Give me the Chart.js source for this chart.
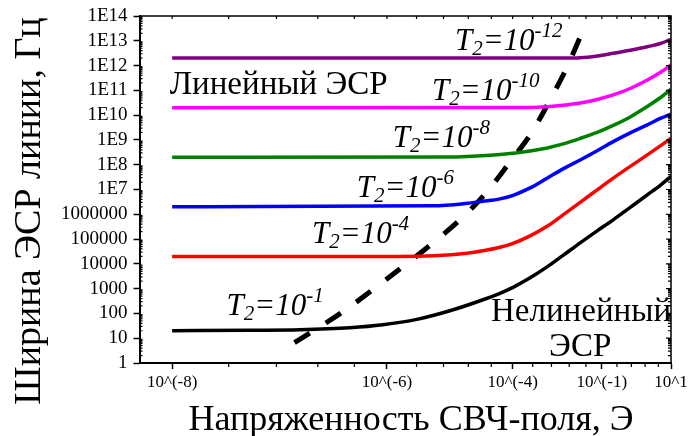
<!DOCTYPE html>
<html>
<head>
<meta charset="utf-8">
<script src="https://cdn.jsdelivr.net/npm/chart.js@4/dist/chart.umd.min.js"></script>
<style>
  @font-face { font-family: 'LocSerif'; font-style: normal; src: local('Liberation Serif'), local('LiberationSerif'), local('Liberation Serif Regular'); }
  @font-face { font-family: 'LocSerif'; font-style: italic; src: local('Liberation Serif Italic'), local('LiberationSerif-Italic'); }
  html, body { margin: 0; padding: 0; background: #fff; }
  #wrap { position: relative; width: 688px; height: 436px; }
  canvas { display: block; }
  #txt { position: absolute; left: 0; top: 0; pointer-events: none; }
</style>
</head>
<body>
<div id="wrap">
  <canvas id="c" width="688" height="436"></canvas>
  <canvas id="txt" width="688" height="436"></canvas>
</div>
<script>
// Field axis: positions on a log-spaced ruler (5..25) carrying the field labels
const fieldTicks = [5, 10, 15, 20, 25];
const fieldTickLabels = ['10^(-8)', '10^(-6)', '10^(-4)', '10^(-1)', '10^1'];
const fieldMinor = [6, 7, 8, 9, 11, 12, 13, 14, 16, 17, 18, 19, 21, 22, 23, 24];

// Linewidth axis decades (10^0 .. 10^14)
const widthDecades = [0, 1, 2, 3, 4, 5, 6, 7, 8, 9, 10, 11, 12, 13, 14];

// Linewidth vs field for each relaxation time T2
const xT2e1  = [5, 6.42, 7.54, 8.87, 9.87, 11.01, 12.25, 13.63, 14.40, 15.02, 15.87, 16.76, 17.65, 18.65, 19.70, 20.75, 21.92, 23.16, 24.15, 25];
const yT2e1  = [20, 21, 22, 26.5, 35, 57.7, 128, 356, 651, 1125, 2720, 7540, 2.21e4, 7.06e4, 2.15e5, 5.97e5, 1.9e6, 6.08e6, 1.47e7, 3.38e7];

const xT2e4  = [5, 10.42, 11.60, 12.94, 13.63, 14.40, 15.02, 15.87, 16.76, 17.65, 18.65, 19.70, 20.75, 21.92, 23.16, 24.15, 25];
const yT2e4  = [2e4, 2e4, 2.11e4, 2.67e4, 3.36e4, 4.65e4, 6.74e4, 1.35e5, 3.27e5, 9.49e5, 3.03e6, 9.66e6, 2.86e7, 8.56e7, 2.49e8, 5.74e8, 1.17e9];

const xT2e6  = [5, 11.60, 12.94, 13.63, 14.40, 15.02, 15.87, 16.76, 17.65, 18.65, 19.70, 20.75, 21.92, 23.16, 24.15, 25];
const yT2e6  = [2e6, 2.19e6, 2.76e6, 3.33e6, 4.19e6, 5.8e6, 1.16e7, 2.86e7, 6.78e7, 1.56e8, 3.67e8, 8.55e8, 1.92e9, 4.03e9, 7.36e9, 1.09e10];

const xT2e8  = [5, 12.25, 12.94, 14.40, 15.87, 16.76, 17.65, 18.65, 19.70, 20.75, 21.92, 23.16, 24.15, 25];
const yT2e8  = [2e8, 2.05e8, 2.16e8, 2.61e8, 3.61e8, 4.76e8, 6.9e8, 1.15e9, 2.01e9, 3.85e9, 8.45e9, 2.24e10, 5.03e10, 1.11e11];

const xT2e10 = [5, 15.87, 16.76, 17.65, 18.65, 19.70, 20.75, 21.92, 23.16, 24.15, 25];
const yT2e10 = [2e10, 2.04e10, 2.2e10, 2.51e10, 3.1e10, 4.3e10, 6.52e10, 1.19e11, 2.62e11, 5.26e11, 1.05e12];

const xT2e12 = [5, 17.65, 18.65, 19.70, 20.75, 21.92, 23.16, 24.15, 25];
const yT2e12 = [2e12, 2e12, 2.06e12, 2.43e12, 3.13e12, 4.17e12, 5.77e12, 7.76e12, 1.15e13];

// Boundary between linear and nonlinear regimes
const xBound = [7.42, 8.67, 9.55, 10.52, 11.6, 12.74, 13.8, 14.87, 15.97, 16.92, 17.88, 18.65];
const yBound = [6.6, 117, 900, 7600, 7.06e4, 7.2e5, 8.0e6, 1.3e8, 2.1e9, 4.1e10, 8.8e11, 1.42e13];

// T2 labels: exponent text and anchor (left, baseline) in data units
const t2Exps   = ['-1', '-4', '-6', '-8', '-10', '-12'];
const t2LabelX = [5.96, 7.85, 9.07, 10.19, 11.56, 12.45];
const t2LabelY = [88.5, 7.1e4, 5.2e6, 5.2e8, 4.1e10, 4.25e12];

const SERIF = '"Liberation Serif"';
const pts = (xs, ys) => xs.map((x, i) => ({ x, y: ys[i] }));
const widthLabel = v => {
  const e = Math.round(Math.log10(v));
  return e <= 6 ? String(Math.pow(10, e)) : '1E' + e;
};

function curve(xs, ys, color) {
  return {
    data: pts(xs, ys), borderColor: color, borderWidth: 3.5,
    cubicInterpolationMode: 'monotone', pointRadius: 0, fill: false
  };
}

// Frame, minor ticks and all lettering (lettering goes on the text layer)
const frame = {
  id: 'frame',
  afterDraw(chart) {
    const ctx = chart.ctx;
    const a = chart.chartArea;
    const xs = chart.scales.x, ys = chart.scales.y;
    ctx.save();
    ctx.strokeStyle = '#000';

    ctx.lineWidth = 1.5;
    ctx.beginPath();
    ctx.moveTo(a.left, a.top); ctx.lineTo(a.right, a.top); ctx.lineTo(a.right, a.bottom);
    ctx.stroke();

    ctx.lineWidth = 1.2;
    ctx.beginPath();
    fieldMinor.forEach(v => {
      const px = xs.getPixelForValue(v);
      ctx.moveTo(px, a.bottom); ctx.lineTo(px, a.bottom + 4);
    });
    fieldTicks.concat(fieldMinor).forEach(v => {
      const px = xs.getPixelForValue(v);
      ctx.moveTo(px, a.top); ctx.lineTo(px, a.top + 3);
    });
    widthDecades.forEach(d => {
      const py = ys.getPixelForValue(Math.pow(10, d));
      ctx.moveTo(a.right, py); ctx.lineTo(a.right - 5, py);
      if (d < 14) {
        for (let m = 2; m <= 9; m++) {
          const q = ys.getPixelForValue(m * Math.pow(10, d));
          ctx.moveTo(a.left, q); ctx.lineTo(a.left + 3, q);
          ctx.moveTo(a.right, q); ctx.lineTo(a.right - 3, q);
        }
      }
    });
    ctx.stroke();
    ctx.restore();

    // text layer
    const t = document.getElementById('txt').getContext('2d');
    t.clearRect(0, 0, 688, 436);
    t.fillStyle = '#000';

    // tick labels from the chart's scales
    t.font = '19px ' + SERIF;
    t.textAlign = 'right';
    t.textBaseline = 'middle';
    ys.ticks.forEach(tk => t.fillText(widthLabel(tk.value), a.left - 12, ys.getPixelForValue(tk.value)));
    t.font = '17px ' + SERIF;
    t.textAlign = 'center';
    t.textBaseline = 'top';
    xs.ticks.forEach((tk, i) => t.fillText(fieldTickLabels[i], xs.getPixelForValue(tk.value), a.bottom + 11));

    // T2 labels with subscript and superscript
    const big = 'italic 31px ' + SERIF;
    const small = 'italic 21px ' + SERIF;
    t.textBaseline = 'alphabetic';
    t.textAlign = 'left';
    t2Exps.forEach((e, i) => {
      let x = xs.getPixelForValue(t2LabelX[i]);
      const y = ys.getPixelForValue(t2LabelY[i]);
      t.font = big;   t.fillText('T', x, y);   x += t.measureText('T').width;
      t.font = small; t.fillText('2', x, y + 5); x += t.measureText('2').width;
      t.font = big;   t.fillText('=10', x, y); x += t.measureText('=10').width;
      t.font = small; t.fillText(e, x, y - 13);
    });

    // regime captions
    t.font = '33px ' + SERIF;
    t.fillText('Линейный ЭСР', xs.getPixelForValue(4.96), ys.getPixelForValue(6.95e10));
    t.textAlign = 'center';
    t.fillText('Нелинейный', xs.getPixelForValue(18.7), ys.getPixelForValue(47.5));
    t.fillText('ЭСР', xs.getPixelForValue(18.65), ys.getPixelForValue(1.85));

    // axis titles
    t.font = '36px ' + SERIF;
    t.fillText('Напряженность СВЧ-поля, Э', 411, 430);
    t.save();
    t.translate(40, 211);
    t.rotate(-Math.PI / 2);
    t.font = '38px ' + SERIF;
    t.fillText('Ширина ЭСР линии, Гц', 0, 0);
    t.restore();
  }
};

function build() {
  new Chart(document.getElementById('c'), {
    type: 'line',
    data: {
      datasets: [
        curve(xT2e12, yT2e12, '#800080'),
        curve(xT2e10, yT2e10, '#ff00ff'),
        curve(xT2e8,  yT2e8,  '#008000'),
        curve(xT2e6,  yT2e6,  '#0000ff'),
        curve(xT2e4,  yT2e4,  '#ff0000'),
        curve(xT2e1,  yT2e1,  '#000000'),
        {
          data: pts(xBound, yBound), borderColor: '#000', borderWidth: 5,
          borderDash: [18, 19], borderCapStyle: 'butt',
          cubicInterpolationMode: 'monotone', pointRadius: 0, fill: false
        }
      ]
    },
    options: {
      responsive: false,
      animation: false,
      layout: { padding: { left: 0, right: 17, top: 16, bottom: 0 } },
      plugins: { legend: { display: false }, tooltip: { enabled: false } },
      scales: {
        x: {
          type: 'logarithmic', min: 4.5, max: 25,
          afterBuildTicks: s => { s.ticks = fieldTicks.map(v => ({ value: v })); },
          afterFit: s => { s.height = 73; s.paddingLeft = 0; s.paddingRight = 0; },
          ticks: { display: false, autoSkip: false, maxRotation: 0 },
          grid: { drawOnChartArea: false, tickLength: 6, tickColor: '#000', tickWidth: 1.5 },
          border: { color: '#000', width: 2 }
        },
        y: {
          type: 'logarithmic', min: 1, max: 1e14,
          afterBuildTicks: s => { s.ticks = widthDecades.map(d => ({ value: Math.pow(10, d) })); },
          afterFit: s => { s.width = 139.5; s.paddingTop = 0; s.paddingBottom = 0; },
          ticks: { display: false, autoSkip: false },
          grid: { drawOnChartArea: false, tickLength: 6, tickColor: '#000', tickWidth: 1.5 },
          border: { color: '#000', width: 2 }
        }
      }
    },
    plugins: [frame]
  });
}

Promise.all([
  document.fonts.load('19px LocSerif'),
  document.fonts.load('italic 31px LocSerif')
]).then(build, build);
</script>
</body>
</html>
